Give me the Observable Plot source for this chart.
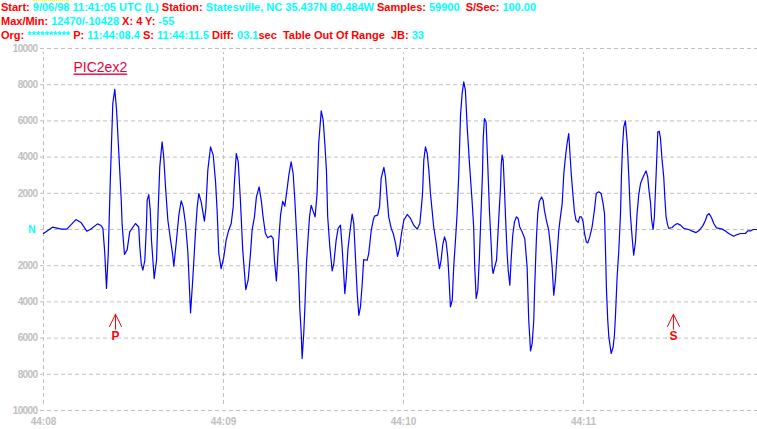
<!DOCTYPE html>
<html>
<head>
<meta charset="utf-8">
<script src="https://cdn.jsdelivr.net/npm/d3@7"></script>
<script src="https://cdn.jsdelivr.net/npm/@observablehq/plot@0.6"></script>
<style>
  body { margin: 0; background: #fff; }
  #hdr { font: bold 11px "Liberation Sans", Arial, sans-serif; line-height: 14px; white-space: pre; height: 42px; padding-left: 1px; color: #ff0000; overflow: hidden; }
  #hdr .c { color: #00ffff; }
  #hdr .u { border-top: 1px dotted #ffff00; }
  #chart svg { display: block; }
  #chart g[aria-label="y-axis tick label"] text { letter-spacing: -0.6px; }
</style>
</head>
<body>
<div id="hdr"></div>
<div id="chart"></div>
<script>
// Header lines: [text, kind]  (0 = label in red, 1 = value in cyan)
const headerLine1 = [["Start: ", 0], ["9/06/98", 2], [" 11:41:05 UTC (L) ", 1], ["Station: ", 0], ["Statesville, NC 35.437N 80.484W ", 1], ["Samples: ", 0], ["59900  ", 1], ["S/Sec: ", 0], ["100.00", 1]];
const headerLine2 = [["Max/Min: ", 0], ["12470/-10428 ", 1], ["X: 4 Y: ", 0], ["-55", 1]];
const headerLine3 = [["Org: ", 0], ["********** ", 1], ["P: ", 0], ["11:44:08.4 ", 1], ["S: ", 0], ["11:44:11.5 ", 1], ["Diff: ", 0], ["03.1", 1], ["sec  Table Out Of Range  JB: ", 0], ["33", 1]];

const traceTitle = "PIC2ex2";

// seconds after 44:08
const times = [0.00,0.05,0.10,0.13,0.18,0.21,0.24,0.26,0.30,0.32,
0.33,0.34,0.35,0.36,0.37,0.385,0.396,0.406,0.418,0.432,
0.437,0.45,0.465,0.479,0.511,0.529,0.535,0.543,0.552,0.563,
0.572,0.576,0.585,0.593,0.60,0.615,0.628,0.637,0.646,0.659,
0.668,0.678,0.691,0.706,0.717,0.724,0.737,0.752,0.765,0.776,
0.789,0.802,0.817,0.829,0.844,0.854,0.863,0.876,0.887,0.894,
0.902,0.913,0.928,0.943,0.956,0.965,0.974,0.987,1.002,1.015,
1.029,1.043,1.054,1.061,1.071,1.082,1.094,1.107,1.124,1.137,
1.15,1.159,1.172,1.183,1.198,1.211,1.22,1.233,1.246,1.265,
1.276,1.283,1.294,1.307,1.317,1.329,1.341,1.354,1.363,1.376,
1.387,1.396,1.409,1.418,1.424,1.432,1.437,1.446,1.452,1.461,
1.468,1.478,1.487,1.496,1.509,1.52,1.529,1.543,1.554,1.563,
1.572,1.579,1.591,1.604,1.613,1.626,1.637,1.65,1.659,1.668,
1.674,1.682,1.691,1.70,1.715,1.724,1.733,1.743,1.752,1.761,
1.771,1.779,1.798,1.807,1.821,1.832,1.839,1.857,1.867,1.876,
1.891,1.90,1.909,1.918,1.932,1.943,1.956,1.967,1.978,1.989,
2.002,2.021,2.039,2.057,2.076,2.091,2.098,2.106,2.113,2.122,
2.132,2.141,2.15,2.159,2.168,2.182,2.191,2.20,2.209,2.218,
2.228,2.237,2.246,2.252,2.261,2.271,2.279,2.289,2.298,2.307,
2.317,2.326,2.335,2.344,2.354,2.368,2.381,2.39,2.396,2.404,
2.413,2.422,2.432,2.439,2.443,2.45,2.459,2.468,2.478,2.487,
2.493,2.498,2.507,2.517,2.524,2.533,2.539,2.543,2.548,2.554,
2.561,2.567,2.576,2.582,2.591,2.598,2.607,2.617,2.628,2.637,
2.646,2.659,2.674,2.687,2.696,2.706,2.715,2.724,2.729,2.739,
2.746,2.754,2.767,2.776,2.783,2.794,2.807,2.817,2.826,2.835,
2.844,2.854,2.863,2.872,2.882,2.891,2.90,2.909,2.918,2.924,
2.932,2.941,2.95,2.959,2.971,2.979,2.989,2.998,3.006,3.016,
3.024,3.035,3.048,3.061,3.071,3.085,3.098,3.109,3.117,3.122,
3.128,3.135,3.141,3.154,3.165,3.172,3.178,3.187,3.196,3.206,
3.211,3.217,3.224,3.233,3.243,3.252,3.261,3.271,3.279,3.289,
3.298,3.307,3.317,3.332,3.348,3.357,3.363,3.372,3.379,3.387,
3.394,3.404,3.413,3.421,3.428,3.437,3.446,3.452,3.459,3.468,
3.474,3.493,3.506,3.521,3.539,3.557,3.585,3.604,3.626,3.644,
3.663,3.678,3.687,3.698,3.711,3.724,3.739,3.771,3.789,3.807,
3.835,3.854,3.872,3.90,3.913,3.928,3.943,3.967];

// counts
const amplitudes = [-220,130,20,20,550,370,-90,0,310,220,
60,-1240,-3260,-1290,2350,6960,7750,6590,4320,1620,
240,-1380,-1110,-130,330,140,-960,-1880,-2250,-1700,
240,1620,1930,1070,-590,-2710,-1700,1070,3460,4840,
4010,2350,510,-590,-1330,-2030,-770,790,1580,1250,
330,-1240,-4610,-2800,-220,1250,1990,1530,880,460,
1160,3280,4560,4110,2630,970,-1330,-2160,-1510,-590,
-40,330,1250,2630,4200,3740,1620,-1140,-3320,-2800,
-1330,-40,700,1800,2350,1530,700,-220,-460,-350,
-500,-1700,-2840,-590,790,1560,1290,2270,3000,3740,
3090,1710,-770,-2620,-4370,-5750,-7130,-5750,-4370,-1880,
-770,700,1340,1070,700,1990,4750,6550,6040,4750,
3280,700,-960,-2290,-1880,-590,60,240,-960,-2430,
-3540,-2710,-1140,-320,850,330,-1510,-3540,-4740,-4280,
-2980,-1660,-1700,-1330,-40,510,740,790,1250,2820,
3430,2910,1800,700,60,-220,-770,-1480,-1050,-220,
510,830,610,240,20,330,1070,1990,3830,4560,
4200,3280,1990,1070,140,-770,-1510,-2160,-1700,-870,
-410,-690,-1510,-2530,-4280,-3910,-2070,-590,880,3000,
6320,7510,8160,7700,5670,3460,1620,140,-2070,-3810,
-3350,-1510,1250,3090,5030,6130,5950,3650,970,-770,
-2070,-2430,-2070,-1700,-410,1250,2270,3550,4110,3830,
2270,700,-1330,-2250,-3080,-1700,-320,420,700,610,
140,-130,-500,-2070,-5010,-6710,-6300,-5010,-3170,-410,
880,1530,1800,1620,1070,510,-40,-960,-2070,-3630,
-2800,-1330,-40,700,1440,3090,4010,4750,5300,4380,
3090,1990,970,510,390,700,700,420,-220,-690,
-740,-410,140,1070,1990,2080,1990,1440,880,-960,
-3350,-5010,-5930,-6850,-6490,-5840,-4740,-2620,-1240,880,
2910,4560,5670,6000,4840,2910,790,-500,-1420,-690,
880,1900,2540,2910,3240,2910,2270,1530,510,0,
700,3090,5390,5430,5030,3830,2910,1800,700,240,
60,110,240,330,240,60,0,-90,-170,-40,
200,510,790,880,660,330,90,20,-80,-220,
-370,-280,-220,-220,-80,-80,0,0];

const xTicks = [0, 1, 2, 3];
const xTickLabels = ["44:08", "44:09", "44:10", "44:11"];
const yTicks = [-10000, -8000, -6000, -4000, -2000, 0, 2000, 4000, 6000, 8000, 10000];

const pickLabels = ["P", "S"];
const pickTimes = [0.4, 3.5];

// header
const hdr = document.getElementById("hdr");
for (const line of [headerLine1, headerLine2, headerLine3]) {
  const div = document.createElement("div");
  for (const [txt, kind] of line) {
    const s = document.createElement("span");
    s.textContent = txt;
    if (kind === 1) s.className = "c";
    if (kind === 2) s.className = "c u";
    div.appendChild(s);
  }
  hdr.appendChild(div);
}

const trace = times.map((t, i) => ({t, v: amplitudes[i]}));
const picks = pickLabels.map((label, i) => ({label, time: pickTimes[i]}));

const grid = "#c0c0c0";
const chart = Plot.plot({
  width: 757,
  height: 387,
  marginLeft: 43,
  marginRight: 0,
  marginTop: 6,
  marginBottom: 19,
  x: {domain: [0, 3.967]},
  y: {domain: [-10000, 10000]},
  style: {background: "white", fontFamily: "'Liberation Sans', Arial, sans-serif", overflow: "visible"},
  marks: [
    Plot.ruleY(yTicks, {stroke: grid, strokeDasharray: "4,3", insetLeft: -3}),
    Plot.ruleX(xTicks, {y1: -10000, y2: 10000, stroke: grid, strokeDasharray: "4,3", insetTop: -6, insetBottom: -4}),
    Plot.axisY(yTicks, {tickFormat: d => d === 0 ? "" : String(Math.abs(d)), tickSize: 0, tickPadding: 6, fill: grid, fontWeight: "bold", fontSize: 10, label: null}),
    Plot.text([0], {y: d => d, frameAnchor: "left", textAnchor: "end", dx: -8, text: () => "N", fill: "#00ffff", fontWeight: "bold", fontSize: 10}),
    Plot.axisX(xTicks, {tickFormat: d => xTickLabels[xTicks.indexOf(d)], tickSize: 0, tickPadding: 7, fill: grid, fontWeight: "bold", fontSize: 10, label: null}),
    Plot.line(trace, {x: "t", y: "v", stroke: "#0000ff", strokeWidth: 1.2}),
    Plot.text([traceTitle], {frameAnchor: "top-left", dx: 30, dy: 19.5, text: d => d, textAnchor: "start", lineAnchor: "middle", fill: "#f00038", fontSize: 14}),
    Plot.arrow(picks, {x1: "time", x2: "time", y1: -7170, y2: -4680, insetStart: 30, stroke: "#ff0000", strokeWidth: 1, headAngle: 52, headLength: 20.5}),
    Plot.text(picks, {x: "time", y: -5510, text: "label", fill: "#ff0000", fontWeight: "bold", fontSize: 12, lineAnchor: "top", dy: 2})
  ]
});
document.getElementById("chart").appendChild(chart);
chart.querySelectorAll("text").forEach(t => { if (t.textContent === traceTitle) t.setAttribute("text-decoration", "underline"); });
</script>
</body>
</html>
